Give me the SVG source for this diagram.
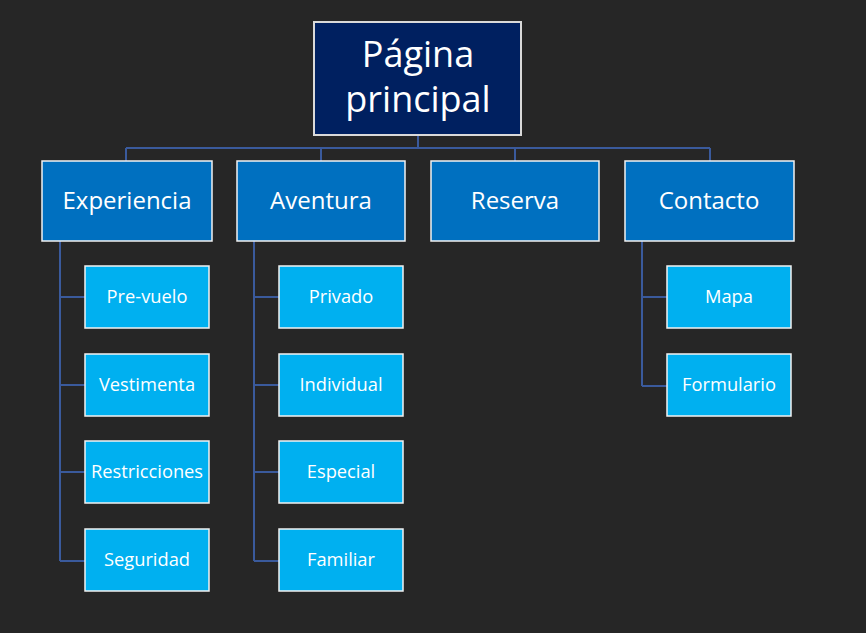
<svg xmlns="http://www.w3.org/2000/svg" width="866" height="633" viewBox="0 0 866 633">
<style>
.t{font-family:"Open Sans","Noto Sans",sans-serif;fill:#ffffff;text-anchor:middle}
.top{fill:#002060;stroke:#d9d9d9;stroke-width:2}
.l1{fill:#0070c0;stroke:#f2f2f2;stroke-width:1.5}
.l2{fill:#00b0f0;stroke:#f2f2f2;stroke-width:1.5}
.c{fill:none;stroke:#3a5a9c;stroke-width:2}
.f1{font-size:24px}
.f2{font-size:18.3px}
.f0{font-size:36px}
</style>
<rect width="866" height="633" fill="#262626"/>
<g id="connectors">
<path class="c" d="M418 135V148M126 148H710M126 148V161M321 148V161M515 148V161M710 148V161"/>
<path class="c" d="M60 241V561M60 297H85M60 385H85M60 472H85M60 561H85"/>
<path class="c" d="M254 241V561M254 297H279M254 385H279M254 472H279M254 561H279"/>
<path class="c" d="M642 241V386M642 297H667M642 386H667"/>
</g>
<g id="n-pagina"><rect class="top" x="314" y="22" width="207" height="113"/><text class="t f0" x="418" y="67">Página</text><text class="t f0" x="418" y="112">principal</text></g>
<g id="n-experiencia"><rect class="l1" x="42" y="161" width="170" height="80"/><text class="t f1" x="127" y="209">Experiencia</text></g>
<g id="n-aventura"><rect class="l1" x="237" y="161" width="168" height="80"/><text class="t f1" x="321" y="209">Aventura</text></g>
<g id="n-reserva"><rect class="l1" x="431" y="161" width="168" height="80"/><text class="t f1" x="515" y="209">Reserva</text></g>
<g id="n-contacto"><rect class="l1" x="625" y="161" width="169" height="80"/><text class="t f1" x="709" y="209">Contacto</text></g>
<g id="n-prevuelo"><rect class="l2" x="85" y="266" width="124" height="62"/><text class="t f2" x="147" y="303">Pre-vuelo</text></g>
<g id="n-vestimenta"><rect class="l2" x="85" y="354" width="124" height="62"/><text class="t f2" x="147" y="391">Vestimenta</text></g>
<g id="n-restricciones"><rect class="l2" x="85" y="441" width="124" height="62"/><text class="t f2" x="147" y="478">Restricciones</text></g>
<g id="n-seguridad"><rect class="l2" x="85" y="529" width="124" height="62"/><text class="t f2" x="147" y="566">Seguridad</text></g>
<g id="n-privado"><rect class="l2" x="279" y="266" width="124" height="62"/><text class="t f2" x="341" y="303">Privado</text></g>
<g id="n-individual"><rect class="l2" x="279" y="354" width="124" height="62"/><text class="t f2" x="341" y="391">Individual</text></g>
<g id="n-especial"><rect class="l2" x="279" y="441" width="124" height="62"/><text class="t f2" x="341" y="478">Especial</text></g>
<g id="n-familiar"><rect class="l2" x="279" y="529" width="124" height="62"/><text class="t f2" x="341" y="566">Familiar</text></g>
<g id="n-mapa"><rect class="l2" x="667" y="266" width="124" height="62"/><text class="t f2" x="729" y="303">Mapa</text></g>
<g id="n-formulario"><rect class="l2" x="667" y="354" width="124" height="62"/><text class="t f2" x="729" y="391">Formulario</text></g>
</svg>
